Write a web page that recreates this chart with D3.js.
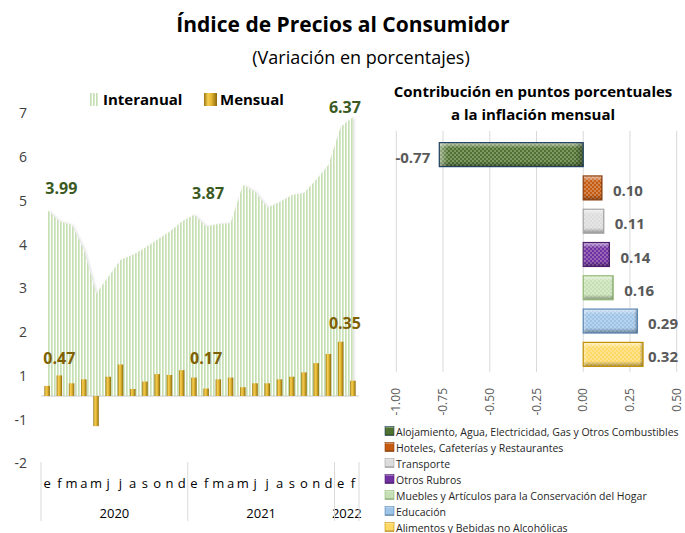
<!DOCTYPE html>
<html lang="es">
<head>
<meta charset="UTF-8">
<title>Índice de Precios al Consumidor</title>
<script src="https://cdn.jsdelivr.net/npm/d3@7"></script>
<style>
  body { margin: 0; padding: 0; background: #fff; font-family: "Open Sans", sans-serif; overflow: hidden; }
  svg text { font-family: "Open Sans", sans-serif; }
</style>
</head>
<body>
<svg id="chart" width="685" height="533"></svg>
<script>
// Left chart: IPC, Jan 2020 - Feb 2022
const months = ["e","f","m","a","m","j","j","a","s","o","n","d",
                "e","f","m","a","m","j","j","a","s","o","n","d",
                "e","f"];
const years = ["2020", "2021", "2022"];
const yearLengths = [12, 12, 2];
const interanual = [4.25, 3.99, 3.91, 3.34, 2.33, 2.72, 3.11, 3.22, 3.38, 3.57, 3.75, 3.98, 4.14,
                    3.87, 3.93, 3.95, 4.82, 4.66, 4.30, 4.43, 4.59, 4.64, 4.94, 5.28, 6.15, 6.37];
const mensual = [0.23, 0.47, 0.29, 0.38, -0.69, 0.44, 0.72, 0.16, 0.33, 0.50, 0.48, 0.59, 0.42,
                 0.17, 0.38, 0.42, 0.20, 0.29, 0.29, 0.38, 0.44, 0.54, 0.75, 0.96, 1.24, 0.35];
const axisLabels = ["7", "6", "5", "4", "3", "2", "1", "-1", "-2"];
// points that carry a data label
const interLabelIdx = [1, 13, 25];
const mensLabelIdx = [1, 13, 25];

// Right chart: contribution to monthly inflation
const rubros = [
  "Alojamiento, Agua, Electricidad, Gas y Otros Combustibles",
  "Hoteles, Cafeterías y Restaurantes",
  "Transporte",
  "Otros Rubros",
  "Muebles y Artículos para la Conservación del Hogar",
  "Educación",
  "Alimentos y Bebidas no Alcohólicas"
];
const contrib = [-0.77, 0.10, 0.11, 0.14, 0.16, 0.29, 0.32];
const contribTicks = [-1.00, -0.75, -0.50, -0.25, 0.00, 0.25, 0.50];

const rubroColors = ["#4f7230", "#c55a11", "#dcdcdc", "#7030a0", "#c5e0b4", "#9dc3e6", "#ffd966"];
const rubroStroke = ["#1f4060", "#8a3d0a", "#a6a6a6", "#4b1f6e", "#8fb872", "#5b87b4", "#bf9000"];

const svg = d3.select("#chart");
const defs = svg.append("defs");

// stripes for the interanual area
const stripes = defs.append("pattern").attr("id", "stripes")
  .attr("patternUnits", "userSpaceOnUse").attr("width", 3).attr("height", 6);
stripes.append("rect").attr("width", 3).attr("height", 6).attr("fill", "#fff");
stripes.append("rect").attr("width", 1.7).attr("height", 6).attr("fill", "#c6e0b4");

// gold gradient for the monthly bars
const gold = defs.append("linearGradient").attr("id", "gold").attr("x1", 0).attr("x2", 1).attr("y1", 0).attr("y2", 0);
[["0%", "#9a7610"], ["30%", "#f4cd52"], ["55%", "#e6b935"], ["100%", "#8c6a0c"]]
  .forEach(s => gold.append("stop").attr("offset", s[0]).attr("stop-color", s[1]));

const shadow = defs.append("filter").attr("id", "shadow").attr("x", "-10%").attr("y", "-10%").attr("width", "130%").attr("height", "130%");
shadow.append("feDropShadow").attr("dx", 1.5).attr("dy", 0).attr("stdDeviation", 1.2)
  .attr("flood-color", "#999").attr("flood-opacity", 0.3);

const blur = defs.append("filter").attr("id", "blur");
blur.append("feGaussianBlur").attr("stdDeviation", 1);

// dots + bevel for the contribution bars
const dots = defs.append("pattern").attr("id", "dots")
  .attr("patternUnits", "userSpaceOnUse").attr("width", 4).attr("height", 4);
dots.append("circle").attr("cx", 1).attr("cy", 1).attr("r", 0.7).attr("fill", "#fff").attr("opacity", 0.75);
dots.append("circle").attr("cx", 3).attr("cy", 3).attr("r", 0.7).attr("fill", "#fff").attr("opacity", 0.75);

const bevelV = defs.append("linearGradient").attr("id", "bevelV").attr("x1", 0).attr("x2", 0).attr("y1", 0).attr("y2", 1);
[["0%", "#fff", 0.6], ["22%", "#fff", 0], ["78%", "#000", 0], ["100%", "#000", 0.35]]
  .forEach(s => bevelV.append("stop").attr("offset", s[0]).attr("stop-color", s[1]).attr("stop-opacity", s[2]));
const bevelH = defs.append("linearGradient").attr("id", "bevelH").attr("x1", 0).attr("x2", 1).attr("y1", 0).attr("y2", 0);
[["0%", "#fff", 0.45], ["6%", "#fff", 0], ["94%", "#000", 0], ["100%", "#000", 0.3]]
  .forEach(s => bevelH.append("stop").attr("offset", s[0]).attr("stop-color", s[1]).attr("stop-opacity", s[2]));

// titles
svg.append("text").attr("x", 343).attr("y", 32).attr("text-anchor", "middle")
  .attr("font-size", 21).attr("font-weight", "bold").attr("fill", "#000")
  .text("Índice de Precios al Consumidor");
svg.append("text").attr("x", 361).attr("y", 64).attr("text-anchor", "middle")
  .attr("font-size", 18).attr("fill", "#000")
  .text("(Variación en porcentajes)");

// ---------- left chart ----------
const x = d3.scaleBand().domain(d3.range(months.length)).range([41, 359]);
const y = d3.scaleLinear().domain([-1.5, 6.5]).range([461.6, 111.6]);
const yTick = d3.scalePoint().domain(axisLabels).range([113, 463]);
const cx = i => x(i) + x.bandwidth() / 2;

const left = svg.append("g");

left.append("path")
  .datum(interanual)
  .attr("fill", "url(#stripes)")
  .attr("filter", "url(#shadow)")
  .attr("d", d3.area().x((d, i) => cx(i)).y0(y(0)).y1(d => y(d)));

// baseline shadow
left.append("line").attr("x1", 41).attr("x2", 359).attr("y1", y(0) + 1.5).attr("y2", y(0) + 1.5)
  .attr("stroke", "#9a9a9a").attr("stroke-width", 2).attr("filter", "url(#blur)");
left.append("line").attr("x1", 41).attr("x2", 359).attr("y1", y(0)).attr("y2", y(0))
  .attr("stroke", "#d0d0d0").attr("stroke-width", 1);

const bw = 5.5;
left.selectAll(".mbar").data(mensual).enter().append("rect")
  .attr("class", "mbar")
  .attr("x", (d, i) => cx(i) - bw / 2)
  .attr("y", d => y(Math.max(0, d)))
  .attr("width", bw)
  .attr("height", d => Math.abs(y(d) - y(0)))
  .attr("fill", "url(#gold)");

// left axis
const yAxis = left.append("g").attr("transform", "translate(27,0)")
  .call(d3.axisLeft(yTick).tickSize(0).tickPadding(0));
yAxis.select(".domain").remove();
yAxis.selectAll("text").attr("font-size", 14).attr("fill", "#404040").attr("dy", "0.35em")
  .style("font-family", "Open Sans, sans-serif");

// month labels
left.selectAll(".month").data(months).enter().append("text")
  .attr("x", (d, i) => cx(i)).attr("y", 488)
  .attr("text-anchor", "middle").attr("font-size", 13).attr("fill", "#000")
  .text(d => d);

// year labels and separators
let start = 0;
const sep = [0];
years.forEach((yr, k) => {
  const end = start + yearLengths[k];
  const x0 = x(start), x1 = x(end - 1) + x.bandwidth();
  left.append("text").attr("x", (x0 + x1) / 2).attr("y", 518)
    .attr("text-anchor", "middle").attr("font-size", 13).attr("fill", "#000").text(yr);
  sep.push(end);
  start = end;
});
left.selectAll(".sep").data(sep).enter().append("line")
  .attr("x1", i => i < months.length ? x(i) : x(i - 1) + x.bandwidth())
  .attr("x2", i => i < months.length ? x(i) : x(i - 1) + x.bandwidth())
  .attr("y1", 462).attr("y2", 521)
  .attr("stroke", "#d9d9d9").attr("stroke-width", 1);

// data labels
const interDy = [-27, -28, -4], interDx = [2, 2, -8];
const mensDy = [-11, -25, -52], mensDx = [0, 0, -8];
interLabelIdx.forEach((i, k) => {
  left.append("text").attr("x", cx(i) + interDx[k]).attr("y", y(interanual[i]) + interDy[k])
    .attr("text-anchor", "middle").attr("font-size", 16).attr("font-weight", "bold").attr("fill", "#3a5a22")
    .text(interanual[i].toFixed(2));
});
mensLabelIdx.forEach((i, k) => {
  left.append("text").attr("x", cx(i) + mensDx[k]).attr("y", y(mensual[i]) + mensDy[k])
    .attr("text-anchor", "middle").attr("font-size", 16).attr("font-weight", "bold").attr("fill", "#7f6000")
    .text(mensual[i].toFixed(2));
});

// legend
const lg = left.append("g");
lg.append("rect").attr("x", 90).attr("y", 93).attr("width", 9).attr("height", 13).attr("fill", "url(#stripes)");
lg.append("text").attr("x", 103).attr("y", 105).attr("font-size", 15).attr("font-weight", "bold").text("Interanual");
lg.append("rect").attr("x", 204).attr("y", 93).attr("width", 13).attr("height", 13).attr("fill", "url(#gold)");
lg.append("text").attr("x", 220).attr("y", 105).attr("font-size", 15).attr("font-weight", "bold").text("Mensual");

// ---------- right chart ----------
const right = svg.append("g");
right.append("text").attr("x", 533).attr("y", 97).attr("text-anchor", "middle")
  .attr("font-size", 15).attr("font-weight", "bold").text("Contribución en puntos porcentuales");
right.append("text").attr("x", 533).attr("y", 120).attr("text-anchor", "middle")
  .attr("font-size", 15).attr("font-weight", "bold").text("a la inflación mensual");

const xr = d3.scaleLinear().domain([-1, 0.5]).range([396.3, 676.7]);
const yr = d3.scaleBand().domain(rubros).range([138, 371]).paddingInner(0.28).paddingOuter(0.14);

right.selectAll(".grid").data(contribTicks).enter().append("line")
  .attr("x1", d => xr(d)).attr("x2", d => xr(d))
  .attr("y1", 131).attr("y2", 372)
  .attr("stroke", "#d9d9d9").attr("stroke-width", 1);

right.selectAll(".tick-lbl").data(contribTicks).enter().append("text")
  .attr("transform", d => `translate(${xr(d) + 4},388) rotate(-90)`)
  .attr("text-anchor", "end").attr("font-size", 12).attr("fill", "#595959")
  .text(d => d.toFixed(2));

const bars = right.selectAll(".cbar").data(contrib).enter().append("g");
const bx = d => xr(Math.min(0, d));
const bwid = d => Math.abs(xr(d) - xr(0));
bars.append("rect").attr("x", bx).attr("y", (d, i) => yr(rubros[i]))
  .attr("width", bwid).attr("height", yr.bandwidth())
  .attr("fill", (d, i) => rubroColors[i]);
bars.append("rect").attr("x", bx).attr("y", (d, i) => yr(rubros[i]))
  .attr("width", bwid).attr("height", yr.bandwidth())
  .attr("fill", "url(#dots)");
bars.append("rect").attr("x", bx).attr("y", (d, i) => yr(rubros[i]))
  .attr("width", bwid).attr("height", yr.bandwidth())
  .attr("fill", "url(#bevelV)");
bars.append("rect").attr("x", bx).attr("y", (d, i) => yr(rubros[i]))
  .attr("width", bwid).attr("height", yr.bandwidth())
  .attr("fill", "url(#bevelH)")
  .attr("stroke", (d, i) => rubroStroke[i]).attr("stroke-width", 1.2);

bars.append("text")
  .attr("x", d => d < 0 ? xr(d) - 9 : Math.min(xr(d) + 11, 648))
  .attr("y", (d, i) => yr(rubros[i]) + yr.bandwidth() / 2 + 8)
  .attr("text-anchor", d => d < 0 ? "end" : "start")
  .attr("font-size", 15).attr("font-weight", "bold").attr("fill", "#595959")
  .text(d => d.toFixed(2));

// legend
const rl = right.selectAll(".rleg").data(rubros).enter().append("g")
  .attr("transform", (d, i) => `translate(385,${431.5 + i * 16})`);
rl.append("rect").attr("x", 0).attr("y", -5).attr("width", 9).attr("height", 9)
  .attr("fill", (d, i) => rubroColors[i]);
rl.append("rect").attr("x", 0).attr("y", -5).attr("width", 9).attr("height", 9)
  .attr("fill", "url(#bevelV)").attr("stroke", (d, i) => rubroStroke[i]).attr("stroke-width", 0.6);
rl.append("text").attr("x", 11).attr("y", 4).attr("font-size", 10.5).attr("fill", "#262626")
  .text(d => d);
</script>
</body>
</html>
